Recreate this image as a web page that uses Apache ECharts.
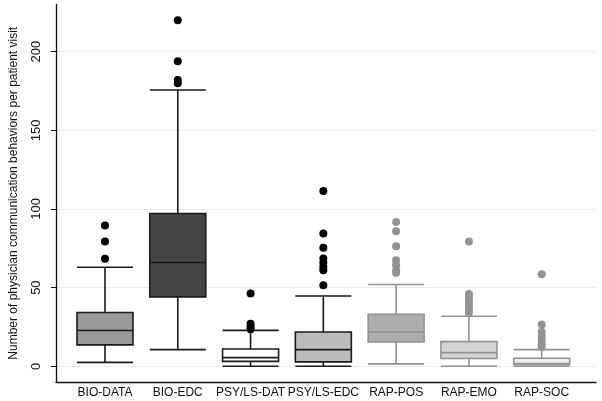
<!DOCTYPE html>
<html>
<head>
<meta charset="utf-8">
<script src="https://cdn.jsdelivr.net/npm/echarts@6/dist/echarts.min.js"></script>
<style>
html,body{margin:0;padding:0;background:#fff;}
#chart{width:602px;height:401px;}
</style>
</head>
<body>
<div id="chart"></div>
<script>
// ---- data ----
const categories = ['BIO-DATA', 'BIO-EDC', 'PSY/LS-DAT', 'PSY/LS-EDC', 'RAP-POS', 'RAP-EMO', 'RAP-SOC'];
// [lower whisker, Q1, median, Q3, upper whisker]
const bioData = [2.5, 13.6, 22.7, 34.2, 63];
const bioEdc  = [10.6, 44.1, 66, 97.1, 175.6];
const psyDat  = [0, 3.1, 5.5, 11, 22.8];
const psyEdc  = [0, 2.8, 10.6, 21.8, 44.7];
const rapPos  = [1.5, 15.5, 21.8, 33.1, 52];
const rapEmo  = [0, 4.9, 8.7, 15.7, 31.8];
const rapSoc  = [0, 1.1, 1.7, 5.1, 10.6];
// outliers
const bioDataOut = [89.5, 79.3, 68.3];
const bioEdcOut  = [220, 194, 182, 180];
const psyDatOut  = [46.2, 27, 25, 23.5];
const psyEdcOut  = [111.5, 84.4, 75.3, 68.5, 66, 63.2, 61, 51.5];
const rapPosOut  = [91.8, 85.9, 76.3, 67.4, 64.2, 61, 59.4];
const rapEmoOut  = [79.3, 46, 44, 42, 40, 38, 36, 34];
const rapSocOut  = [58.5, 26.5, 22, 19, 16.5, 14, 12.3];
const yTicks = [0, 50, 100, 150, 200];

// ---- styles ----
const boxes = [bioData, bioEdc, psyDat, psyEdc, rapPos, rapEmo, rapSoc];
const outs = [bioDataOut, bioEdcOut, psyDatOut, psyEdcOut, rapPosOut, rapEmoOut, rapSocOut];
const fills = ['#999999', '#444444', '#ffffff', '#bcbcbc', '#adadad', '#d4d4d4', '#efefef'];
const strokes = ['#1a1a1a', '#1a1a1a', '#1a1a1a', '#1a1a1a', '#929292', '#929292', '#929292'];
const dotColors = ['#000000', '#000000', '#000000', '#000000', '#939393', '#939393', '#939393'];

const boxData = boxes.map((b, i) => ({
  value: b,
  itemStyle: { color: fills[i], borderColor: strokes[i], borderWidth: 1.6 }
}));
const outData = [];
outs.forEach((arr, i) => arr.forEach(v => outData.push({
  value: [categories[i], v],
  itemStyle: { color: dotColors[i], opacity: 1 }
})));

const chart = echarts.init(document.getElementById('chart'), null, { renderer: 'canvas' });
const font = 'Liberation Sans, Arial, Helvetica, sans-serif';
chart.setOption({
  animation: false,
  backgroundColor: '#ffffff',
  grid: [
    { left: 51, right: 6, top: 4.5, bottom: 19 },
    { left: 68.6, right: 23.9, top: 4.5, bottom: 19 }
  ],
  xAxis: [
    {
      gridIndex: 0, type: 'value', min: 0, max: 1,
      axisLine: { show: true, onZero: false, lineStyle: { color: '#111', width: 1.3 } },
      axisTick: { show: false }, axisLabel: { show: false }, splitLine: { show: false }
    },
    {
      gridIndex: 1, type: 'category', data: categories,
      axisLine: { show: false }, axisTick: { show: false }, splitLine: { show: false },
      axisLabel: { interval: 0, color: '#111', fontSize: 12, fontFamily: font, margin: 5 }
    }
  ],
  yAxis: [
    {
      gridIndex: 0, type: 'value', min: -10, max: 230,
      name: 'Number of physician communication behaviors per patient visit',
      nameLocation: 'middle', nameRotate: 90, nameGap: 36,
      nameTextStyle: { color: '#111', fontSize: 12, fontFamily: font },
      axisLine: { show: true, onZero: false, lineStyle: { color: '#111', width: 1.3 } },
      axisTick: { show: true, length: 5, customValues: yTicks, lineStyle: { color: '#111' } },
      axisLabel: { show: true, rotate: 90, customValues: yTicks, color: '#111', fontSize: 13, fontFamily: font, margin: 13 },
      splitLine: { show: true, lineStyle: { color: '#ececec', width: 1 } }
    },
    {
      gridIndex: 1, type: 'value', min: -10, max: 230, show: false,
      splitLine: { show: false }
    }
  ],
  series: [
    {
      type: 'boxplot', xAxisIndex: 1, yAxisIndex: 1,
      boxWidth: [56, 56],
      data: boxData
    },
    {
      type: 'scatter', xAxisIndex: 1, yAxisIndex: 1,
      symbol: 'circle', symbolSize: 8,
      data: outData
    }
  ]
});
</script>
</body>
</html>
